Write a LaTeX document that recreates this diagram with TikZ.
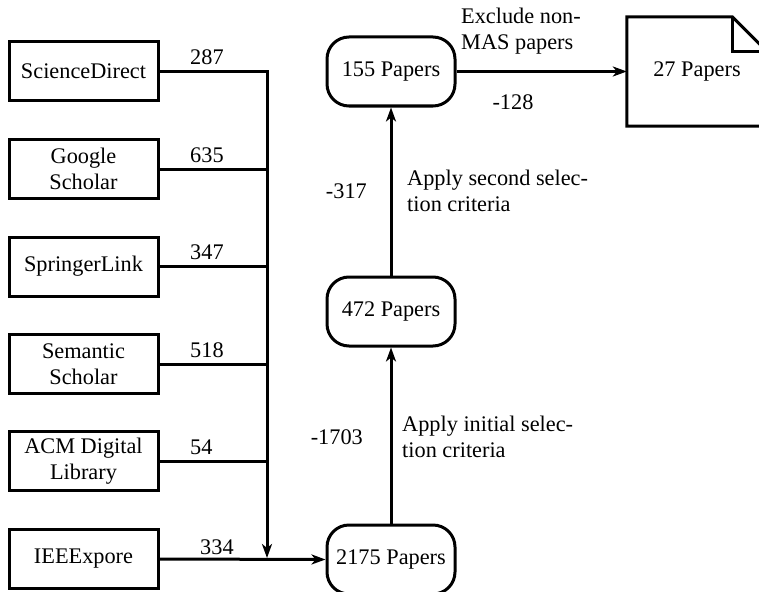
\documentclass[tikz,border=0pt]{standalone}
\usepackage{fontspec}
\setmainfont{Liberation Serif}
\usetikzlibrary{arrows.meta}
\begin{document}
\begin{tikzpicture}[x=1pt,y=-1pt,
  every node/.style={font=\fontsize{22.3}{26.5}\selectfont, inner sep=0pt},
  src/.style={draw, line width=3pt, minimum width=149pt, minimum height=59pt, align=center},
  pap/.style={draw, line width=3pt, rounded corners=22pt, minimum width=128pt, minimum height=69pt},
  conn/.style={line width=3pt},
  arr/.style={conn, -{Stealth[length=14pt,width=10pt,inset=4pt]}},
  lbl/.style={align=left}]
\useasboundingbox (0,0) rectangle (759,591);
% source boxes
\node[src] (sd) at (83.5,71.5) {ScienceDirect};
\node[src] (gs) at (83.5,169) {Google\\Scholar};
\node[src] (sl) at (83.5,266.5) {SpringerLink};
\node[src] (ss) at (83.5,364) {Semantic\\Scholar};
\node[src] (acm) at (83.5,461) {ACM Digital\\Library};
\node[src] (ie) at (83.5,559) {IEEExpore};
% paper counts
\node[pap] (p155) at (391,71.5) {155 Papers};
\node[pap] (p472) at (391,311.5) {472 Papers};
\node[pap] (p2175) at (391,559.5) {2175 Papers};
\node[minimum width=140pt, minimum height=109pt] (doc) at (697,71.5) {27 Papers};
\draw[conn] (doc.north west) -- ([xshift=-35pt]doc.north east) -- ([yshift=-35pt]doc.north east) -- (doc.south east) -- (doc.south west) -- cycle;
\draw[conn] ([xshift=-35pt]doc.north east) -- ([xshift=-35pt,yshift=-35pt]doc.north east) -- ([yshift=-35pt]doc.north east);
% collector
\coordinate (top) at (267,71.5);
\coordinate (bot) at (267,558);
\draw[arr] (sd.east) -- (top) -- (bot);
\draw[conn] (gs.east) -- (gs.east -| top);
\draw[conn] (sl.east) -- (sl.east -| top);
\draw[conn] (ss.east) -- (ss.east -| top);
\draw[conn] (acm.east) -- (acm.east -| top);
\draw[arr] (ie.east) -- (p2175.west);
\draw[arr] (p2175.north) -- (p472.south);
\draw[arr] (p472.north) -- (p155.south);
\draw[arr] (p155.east) -- (doc.west);
% labels
\node[anchor=west] (l287) at (190,57) {287};
\node[anchor=west] (l635) at (190,155) {635};
\node[anchor=west] (l347) at (190,252) {347};
\node[anchor=west] (l518) at (190,350) {518};
\node[anchor=west] (l54) at (190,447) {54};
\node[anchor=west] (l334) at (200,547) {334};
\node[anchor=east] (m317) at (367,191) {-317};
\node[anchor=east] (m1703) at (363,437) {-1703};
\node[lbl, anchor=west] (a2) at (407,191) {Apply second selec-\\tion criteria};
\node[lbl, anchor=west] (a1) at (402,437) {Apply initial selec-\\tion criteria};
\node[lbl, anchor=west] (ex) at (461,31) {Exclude non-\\MAS papers};
\node (m128) at (513,102) {-128};
\end{tikzpicture}
\end{document}
